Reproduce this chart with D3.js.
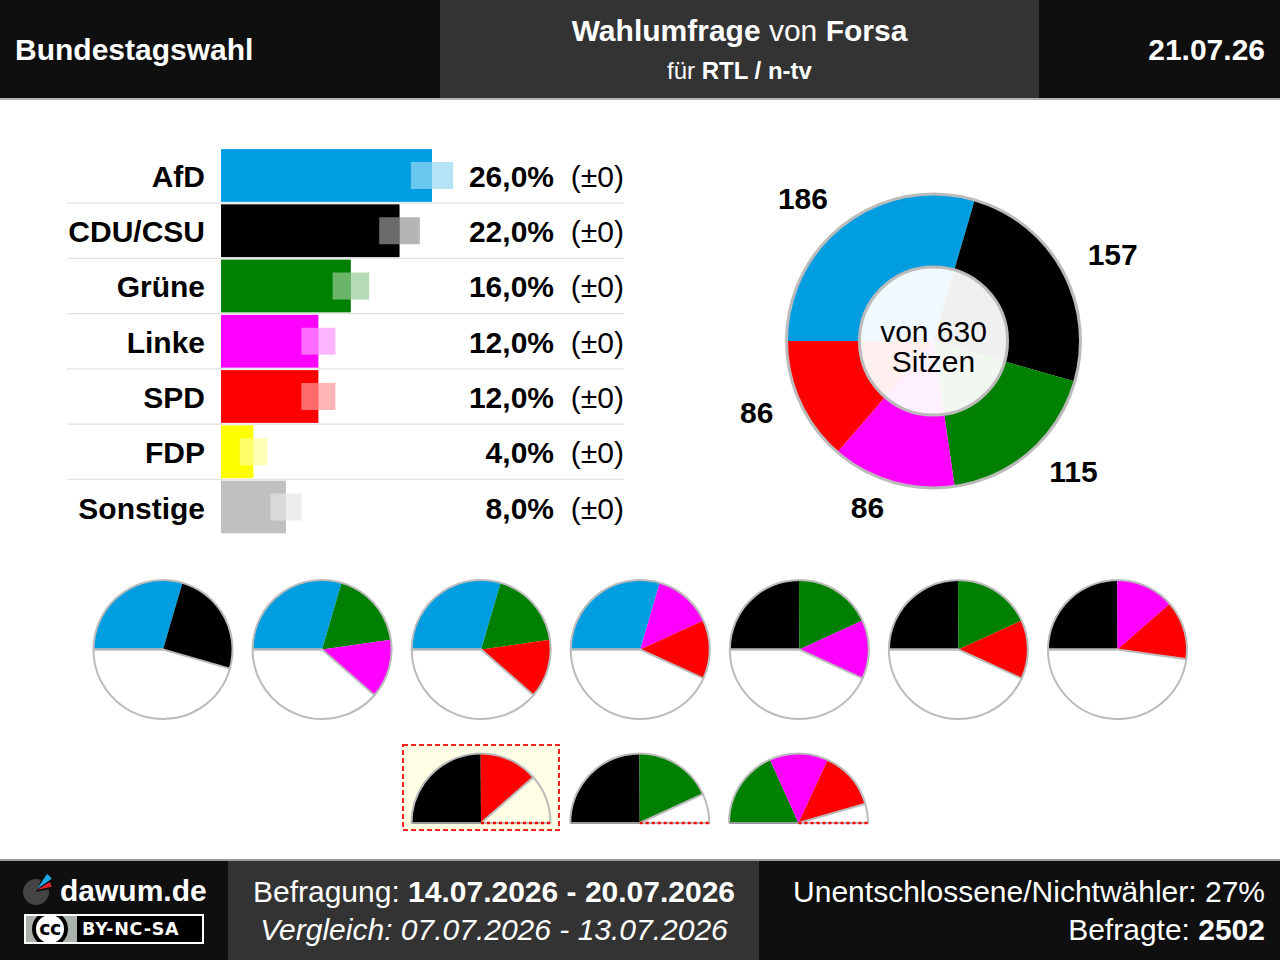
<!DOCTYPE html>
<html>
<head>
<meta charset="utf-8">
<script src="https://cdn.jsdelivr.net/npm/d3@7"></script>
<style>
  html, body { margin: 0; padding: 0; background: #fff; }
  svg { display: block; font-family: "Liberation Sans", Arial, sans-serif; }
</style>
</head>
<body>
<script>
// -- data --
var parties = ["AfD", "CDU/CSU", "Grüne", "Linke", "SPD", "FDP", "Sonstige"];
var colors = ["#009ee0", "#000000", "#008000", "#ff00ff", "#ff0000", "#ffff00", "#c0c0c0"];
var percents = [26, 22, 16, 12, 12, 4, 8];
var margins = [2.6, 2.5, 2.25, 2.1, 2.1, 1.7, 1.9];
var changes = ["(±0)", "(±0)", "(±0)", "(±0)", "(±0)", "(±0)", "(±0)"];

var seatParties = ["AfD", "CDU/CSU", "Grüne", "Linke", "SPD"];
var seats = [186, 157, 115, 86, 86];
var totalSeats = 630;

var coalitionsTop = [
  ["AfD", "CDU/CSU"], ["AfD", "Grüne", "Linke"], ["AfD", "Grüne", "SPD"], ["AfD", "Linke", "SPD"],
  ["CDU/CSU", "Grüne", "Linke"], ["CDU/CSU", "Grüne", "SPD"], ["CDU/CSU", "Linke", "SPD"]
];
var coalitionsBottom = [["CDU/CSU", "SPD"], ["CDU/CSU", "Grüne"], ["Grüne", "Linke", "SPD"]];

var W = 1280, H = 960;
var svg = d3.select("body").append("svg").attr("width", W).attr("height", H);

var colorOf = d3.scaleOrdinal().domain(parties).range(colors);
var seatOf = d3.scaleOrdinal().domain(seatParties).range(seats);

// *********** header ***********
function band(x, y, w, h, fill) {
  svg.append("rect").attr("x", x).attr("y", y).attr("width", w).attr("height", h).attr("fill", fill);
}
function label(g, x, y, size, anchor, parts, fill) {
  var t = g.append("text").attr("x", x).attr("y", y).attr("font-size", size)
    .attr("text-anchor", anchor).attr("fill", fill);
  parts.forEach(function(p) {
    t.append("tspan").attr("font-weight", p[1] ? "bold" : "normal")
      .attr("font-style", p[2] ? "italic" : "normal").text(p[0]);
  });
  return t;
}

band(0, 0, W, 98, "#0f0f0f");
band(440, 0, 599, 98, "#333333");
band(0, 98, W, 2, "#b0b0b0");
label(svg, 15, 60, 30, "start", [["Bundestagswahl", true]], "#fff");
label(svg, 739.5, 41, 30, "middle", [["Wahlumfrage", true], [" von ", false], ["Forsa", true]], "#fff");
label(svg, 739.5, 79, 24, "middle", [["für ", false], ["RTL / n-tv", true]], "#fff");
label(svg, 1265, 60, 30, "end", [["21.07.26", true]], "#fff");

// *********** bars ***********
var x = d3.scaleLinear().domain([0, 26]).range([221, 432]);
var y = d3.scaleBand().domain(parties).range([148, 534.5]).paddingInner(0.045).paddingOuter(0.02);

var rows = parties.map(function(p, i) {
  return { party: p, pct: percents[i], err: margins[i], change: changes[i] };
});

var rowsG = svg.append("g");
rows.slice(0, -1).forEach(function(d) {
  var ly = y(d.party) + y.bandwidth() + y.step() * y.paddingInner() / 2;
  rowsG.append("line").attr("x1", 67).attr("x2", 624).attr("y1", ly).attr("y2", ly)
    .attr("stroke", "#e2e2e2").attr("stroke-width", 1.2);
});

var bar = svg.selectAll("g.bar").data(rows).enter().append("g").attr("class", "bar");
bar.append("rect")
  .attr("x", x(0))
  .attr("y", function(d) { return y(d.party); })
  .attr("width", function(d) { return x(d.pct) - x(0); })
  .attr("height", y.bandwidth())
  .attr("fill", function(d) { return colorOf(d.party); });
// margin of error: light over the bar, tinted beyond it
bar.append("rect")
  .attr("x", function(d) { return x(d.pct - d.err); })
  .attr("y", function(d) { return y(d.party) + y.bandwidth() / 2 - 13.5; })
  .attr("width", function(d) { return x(d.pct) - x(d.pct - d.err); })
  .attr("height", 27)
  .attr("fill", "#fff").attr("opacity", 0.42);
bar.append("rect")
  .attr("x", function(d) { return x(d.pct); })
  .attr("y", function(d) { return y(d.party) + y.bandwidth() / 2 - 13.5; })
  .attr("width", function(d) { return x(d.pct + d.err) - x(d.pct); })
  .attr("height", 27)
  .attr("fill", function(d) { return colorOf(d.party); }).attr("opacity", 0.29);

bar.append("text")
  .attr("x", 205).attr("y", function(d) { return y(d.party) + y.bandwidth() / 2 + 11.5; })
  .attr("text-anchor", "end").attr("font-size", 30).attr("font-weight", "bold")
  .text(function(d) { return d.party; });
bar.append("text")
  .attr("x", 554).attr("y", function(d) { return y(d.party) + y.bandwidth() / 2 + 11.5; })
  .attr("text-anchor", "end").attr("font-size", 30).attr("font-weight", "bold")
  .text(function(d) { return d.pct.toFixed(1).replace(".", ",") + "%"; });
bar.append("text")
  .attr("x", 624).attr("y", function(d) { return y(d.party) + y.bandwidth() / 2 + 11.5; })
  .attr("text-anchor", "end").attr("font-size", 30)
  .text(function(d) { return d.change; });

// *********** seat donut ***********
var angle = d3.scaleLinear().domain([0, totalSeats]).range([0, 2 * Math.PI]);
var START = -Math.PI / 2;
var seatPie = d3.pie().sort(null).startAngle(START).endAngle(START + 2 * Math.PI);
var donut = svg.append("g").attr("transform", "translate(933.5,341)");
var outerR = 147, innerR = 74;

donut.selectAll("path.seat").data(seatPie(seats)).enter().append("path")
  .attr("class", "seat")
  .attr("d", d3.arc().innerRadius(0).outerRadius(outerR))
  .attr("fill", function(d, i) { return colorOf(seatParties[i]); });
donut.append("circle").attr("r", outerR).attr("fill", "none").attr("stroke", "#bbb").attr("stroke-width", 3);
donut.append("circle").attr("r", innerR).attr("fill", "#fff").attr("fill-opacity", 0.94)
  .attr("stroke", "#bbb").attr("stroke-width", 3);
donut.append("text").attr("text-anchor", "middle").attr("y", 1).attr("font-size", 30).text("von " + totalSeats);
donut.append("text").attr("text-anchor", "middle").attr("y", 31).attr("font-size", 30).text("Sitzen");

// seat numbers sit on a ring round the donut, anchored away from it
var seatLabelArc = d3.arc().innerRadius(176).outerRadius(176);
donut.selectAll("text.seatLabel").data(seatPie(seats)).enter().append("text")
  .attr("class", "seatLabel")
  .attr("x", function(d) { return seatLabelArc.centroid(d)[0]; })
  .attr("y", function(d) { return seatLabelArc.centroid(d)[1] + 8.5; })
  .attr("text-anchor", function(d) { return seatLabelArc.centroid(d)[0] > 0 ? "start" : "end"; })
  .attr("font-size", 30).attr("font-weight", "bold")
  .text(function(d) { return d.data; });

// *********** coalitions ***********
function coalition(cx, cy, r, members, half) {
  var g = svg.append("g").attr("transform", "translate(" + cx + "," + cy + ")");
  var arc = d3.arc().innerRadius(0).outerRadius(r);
  var sum = d3.sum(members, function(m) { return seatOf(m); });
  var stop = half ? Math.PI / 2 : START + 2 * Math.PI;
  var a = START;

  members.forEach(function(m) {
    var b = a + angle(seatOf(m));
    g.append("path").attr("d", arc({ startAngle: a, endAngle: b })).attr("fill", colorOf(m));
    a = b;
  });
  // grey outline of the free part, drawn over the slices' end
  var used = START + angle(sum);
  g.append("path").attr("d", arc({ startAngle: used, endAngle: stop }))
    .attr("fill", "none").attr("stroke", "#bbb").attr("stroke-width", 2);
  g.append("path").attr("d", d3.arc().innerRadius(r).outerRadius(r)({ startAngle: START, endAngle: used }))
    .attr("fill", "none").attr("stroke", "#bbb").attr("stroke-width", 2);
  // majority line
  if (half) {
    g.append("line").attr("x1", -r).attr("x2", 0).attr("y1", 0).attr("y2", 0)
      .attr("stroke", "#999").attr("stroke-width", 2);
    g.append("line").attr("x1", 0).attr("x2", r).attr("y1", 0).attr("y2", 0)
      .attr("stroke", "#ff0000").attr("stroke-width", 2.5).attr("stroke-dasharray", "3,3");
  } else {
    g.append("line").attr("x1", -r).attr("x2", 0).attr("y1", 0).attr("y2", 0)
      .attr("stroke", "#bbb").attr("stroke-width", 2);
  }
}

var topX = d3.scalePoint().domain(d3.range(coalitionsTop.length)).range([163, 1117.5]);
coalitionsTop.forEach(function(m, i) { coalition(topX(i), 649.5, 69.5, m, false); });

svg.append("rect").attr("x", 403).attr("y", 745).attr("width", 156).attr("height", 85)
  .attr("fill", "#ffffe6").attr("stroke", "#ff2020").attr("stroke-width", 2).attr("stroke-dasharray", "5,3");
var bottomX = d3.scalePoint().domain(d3.range(coalitionsBottom.length)).range([481, 798.5]);
coalitionsBottom.forEach(function(m, i) { coalition(bottomX(i), 823, 69.5, m, true); });

// *********** footer ***********
band(0, 859, W, 101, "#0f0f0f");
band(228, 861, 531, 99, "#333333");
band(0, 859, W, 2, "#9a9a9a");

var logo = svg.append("g").attr("transform", "translate(36,892)");
logo.append("path").attr("d", d3.arc().innerRadius(0).outerRadius(13)({ startAngle: 1.35, endAngle: 2 * Math.PI + 0.4 }))
  .attr("fill", "#444");
logo.append("path").attr("d", d3.arc().innerRadius(0).outerRadius(18)({ startAngle: 0.59, endAngle: 0.96 }))
  .attr("transform", "translate(1,-3)").attr("fill", "#1ea8e8");
logo.append("path").attr("d", d3.arc().innerRadius(0).outerRadius(15)({ startAngle: 1.01, endAngle: 1.36 }))
  .attr("transform", "translate(1,-2)").attr("fill", "#e5202e");

label(svg, 60, 901, 30, "start", [["dawum.de", true]], "#fff");

band(24, 914, 180, 30, "#fff");
band(26, 916, 176, 26, "#000");
band(26, 916, 51, 26, "#aab2ab");
svg.append("clipPath").attr("id", "ccClip").append("rect")
  .attr("x", 26).attr("y", 916).attr("width", 51).attr("height", 26);
svg.append("circle").attr("cx", 50).attr("cy", 929).attr("r", 18).attr("fill", "#000").attr("clip-path", "url(#ccClip)");
svg.append("circle").attr("cx", 50).attr("cy", 929).attr("r", 14).attr("fill", "#fff");
svg.append("text").attr("x", 50).attr("y", 935).attr("text-anchor", "middle").attr("font-size", 19)
  .attr("font-weight", "bold").attr("font-family", "DejaVu Sans").attr("letter-spacing", -0.5).text("cc");
svg.append("text").attr("x", 82).attr("y", 935).attr("font-size", 17.5).attr("font-weight", "bold")
  .attr("font-family", "DejaVu Sans").attr("letter-spacing", 0.8).attr("fill", "#fff").text("BY-NC-SA");

label(svg, 494, 902, 30, "middle", [["Befragung: ", false], ["14.07.2026 - 20.07.2026", true]], "#fff");
label(svg, 494, 940, 30, "middle", [["Vergleich: 07.07.2026 - 13.07.2026", false, true]], "#fff");
label(svg, 1265, 902, 30, "end", [["Unentschlossene/Nichtwähler: 27%", false]], "#fff");
label(svg, 1265, 940, 30, "end", [["Befragte: ", false], ["2502", true]], "#fff");
</script>
</body>
</html>
